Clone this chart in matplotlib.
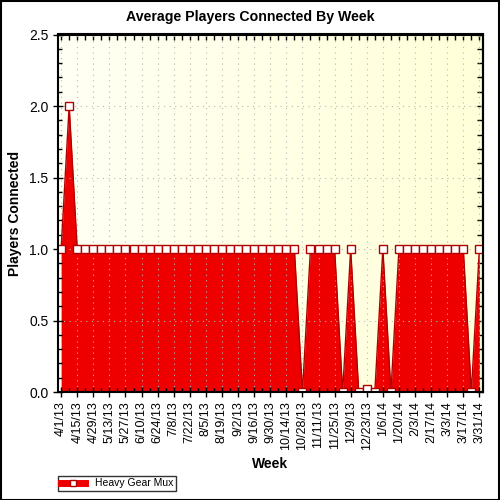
import matplotlib
matplotlib.use("Agg")
import matplotlib.pyplot as plt
import numpy as np
from matplotlib.ticker import MultipleLocator
from matplotlib.patches import Rectangle
from matplotlib.lines import Line2D

plt.rcParams['font.family'] = ['Liberation Sans', 'DejaVu Sans']

# weekly averages, 4/1/13 .. 3/31/14
players = [1, 2] + [1] * 28 + [0, 1, 1, 1, 1, 0, 1, 0, 0.02, 0, 1, 0] + [1] * 9 + [0, 1]
tick_labels = ["4/1/13", "4/15/13", "4/29/13", "5/13/13", "5/27/13", "6/10/13",
               "6/24/13", "7/8/13", "7/22/13", "8/5/13", "8/19/13", "9/2/13",
               "9/16/13", "9/30/13", "10/14/13", "10/28/13", "11/11/13", "11/25/13",
               "12/9/13", "12/23/13", "1/6/14", "1/20/14", "2/3/14", "2/17/14",
               "3/3/14", "3/17/14", "3/31/14"]
series_name = "Heavy Gear Mux"

weeks = np.arange(len(players))

fig = plt.figure(figsize=(5, 5), dpi=100)
ax = fig.add_axes([0.115, 0.216, 0.851, 0.715])

# pale yellow background gradient
grad = np.linspace(0, 1, 256).reshape(1, -1)
ax.imshow(grad, extent=[0, 1, 0, 1], transform=ax.transAxes, aspect='auto',
          cmap=matplotlib.colors.LinearSegmentedColormap.from_list("bg", ["#fffff4", "#ffffd9"]),
          zorder=0)

ax.fill_between(weeks, players, 0, color="#ee0000", zorder=2, linewidth=0)
ax.plot(weeks, players, color="#b00000", linewidth=1, zorder=3,
        marker="s", markersize=6, markerfacecolor="white", markeredgecolor="#b00000",
        markeredgewidth=1)

ax.set_xlim(-0.45, 52.45)
ax.set_ylim(0, 2.5)
ax.set_xticks(np.arange(0, len(players), 2))
ax.set_xticklabels(tick_labels, rotation=90, fontsize=9)
ax.xaxis.set_minor_locator(MultipleLocator(1))
ax.set_yticks(np.arange(0, 2.51, 0.5))
ax.set_yticklabels(["%.1f" % v for v in np.arange(0, 2.51, 0.5)], fontsize=10)
ax.yaxis.set_minor_locator(MultipleLocator(0.1))

ax.tick_params(axis='both', which='major', direction='inout', length=7, width=1,
               colors='black', pad=3)
ax.tick_params(axis='both', which='minor', direction='in', length=3, width=1)

# small inward ticks on top and right edges
top = ax.secondary_xaxis('top')
top.set_xticks(weeks)
top.set_xticklabels([])
top.tick_params(direction='in', length=4, width=1)
right = ax.secondary_yaxis('right')
right.set_yticks(np.arange(0, 2.51, 0.1))
right.set_yticklabels([])
right.tick_params(direction='in', length=4, width=1)
for sec in (top, right):
    for s in sec.spines.values():
        s.set_linewidth(1.5)

ax.grid(True, which='major', linestyle=(0, (1, 4)), color='#b8b8b8', linewidth=0.8, zorder=1)
ax.set_axisbelow(False)
for s in ax.spines.values():
    s.set_linewidth(1.5)
    s.set_zorder(5)

fig.text(0.5, 0.966, "Average Players Connected By Week", fontsize=10.2, fontweight='bold',
         ha='center', va='center')
ax.set_xlabel("Week", fontsize=10, fontweight='bold', labelpad=5)
fig.text(0.03, 0.573, "Players Connected", rotation=90, fontsize=10, fontweight='bold',
         ha='center', va='center')

# legend box at bottom left
handle = Line2D([], [], color="#ee0000", linewidth=5, marker="s", markersize=5,
                markerfacecolor="white", markeredgecolor="#b00000")
leg = fig.legend([handle], [series_name], loc='lower left', bbox_to_anchor=(0.106, 0.008),
                 fontsize=7.5, frameon=True, fancybox=False, edgecolor='black',
                 handlelength=2.3, borderpad=0.25, handletextpad=1.0)
leg.get_frame().set_linewidth(1)

# figure border
fig.patches.append(Rectangle((0.001, 0.001), 0.997, 0.997, transform=fig.transFigure,
                             fill=False, edgecolor='black', linewidth=1.5))

fig.savefig("out.png", dpi=100)
